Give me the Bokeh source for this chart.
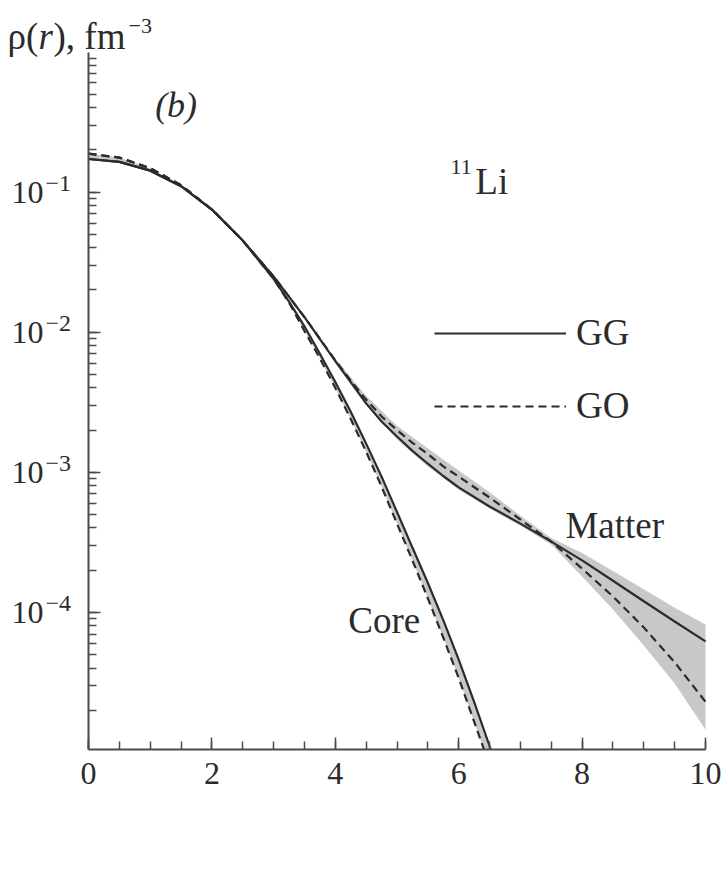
import numpy as np
from bokeh.plotting import figure
from bokeh.models import (Range1d, SingleIntervalTicker, Label, Legend, LegendItem,
                          CustomJSTickFormatter)
from bokeh.embed import file_html
from bokeh.resources import INLINE

# ---- density profiles of 11Li, rho(r) in fm^-3 ----
r_matter = [0.0, 0.5, 1.0, 1.5, 2.0, 2.5, 3.0, 3.5, 4.0, 4.25, 4.5, 4.75, 5.0, 5.25, 5.5,
            5.75, 6.0, 6.5, 7.0, 7.5, 8.0, 8.5, 9.0, 9.5, 10.0]
matter_gg = [0.172, 0.164, 0.142, 0.110, 0.075, 0.045, 0.025, 0.0128, 0.0062, 0.0044, 0.0031,
             2.3e-3, 1.8e-3, 1.42e-3, 1.15e-3, 9.4e-4, 7.8e-4, 5.7e-4, 4.3e-4, 3.2e-4,
             2.35e-4, 1.68e-4, 1.2e-4, 8.6e-5, 6.2e-5]
matter_go = [0.188, 0.176, 0.148, 0.112, 0.075, 0.045, 0.025, 0.0128, 0.0063, 0.0045, 0.0033,
             2.5e-3, 2.0e-3, 1.62e-3, 1.35e-3, 1.1e-3, 9.3e-4, 6.6e-4, 4.6e-4, 3.2e-4,
             2.05e-4, 1.3e-4, 7.8e-5, 4.4e-5, 2.3e-5]

# uncertainty corridor of the matter density
r_band = [4.0, 4.5, 5.0, 5.5, 6.0, 6.5, 7.0, 7.5, 8.0, 8.5, 9.0, 9.5, 10.0]
band_lo = [6.0e-3, 3.0e-3, 1.72e-3, 1.1e-3, 7.5e-4, 5.5e-4, 4.15e-4, 3.05e-4,
           1.8e-4, 1.05e-4, 5.8e-5, 3.1e-5, 1.45e-5]
band_hi = [6.5e-3, 3.5e-3, 2.15e-3, 1.48e-3, 1.03e-3, 7.2e-4, 4.9e-4, 3.4e-4,
           2.65e-4, 1.97e-4, 1.46e-4, 1.08e-4, 8.2e-5]

# core densities, each down to where it meets the bottom of the plot
r_core_gg = [0.0, 0.5, 1.0, 1.5, 2.0, 2.5, 3.0, 3.25, 3.5, 3.75, 4.0, 4.25, 4.5, 4.75,
             5.0, 5.25, 5.5, 5.75, 6.0, 6.25, 6.52]
core_gg = [0.172, 0.164, 0.142, 0.110, 0.075, 0.045, 0.024, 0.0165, 0.0110, 7.0e-3,
           4.4e-3, 2.7e-3, 1.6e-3, 9.3e-4, 5.2e-4, 2.9e-4, 1.62e-4, 8.8e-5, 4.6e-5,
           2.3e-5, 1.05e-5]
r_core_go = [0.0, 0.5, 1.0, 1.5, 2.0, 2.5, 3.0, 3.25, 3.5, 3.75, 4.0, 4.25, 4.5, 4.75,
             5.0, 5.25, 5.5, 5.75, 6.0, 6.25, 6.41]
core_go = [0.188, 0.176, 0.148, 0.112, 0.075, 0.045, 0.024, 0.0162, 0.0102, 6.5e-3,
           4.0e-3, 2.4e-3, 1.4e-3, 7.9e-4, 4.3e-4, 2.35e-4, 1.26e-4, 6.6e-5, 3.4e-5,
           1.66e-5, 1.05e-5]

R_MIN, R_MAX = 0.0, 10.0
RHO_MIN, RHO_MAX = 1.05e-5, 0.99
x_ticks_interval = 2
y_decades = [-1, -2, -3, -4]

SERIF = "Liberation Serif"
INK = "#2b2b2b"
AXIS = "#4a4a4a"
BAND = "#c8c8c8"

# canvas and the axes box inside it (pixels)
W, H = 728, 861
BOX_L, BOX_T, BOX_W, BOX_H = 88, 52, 617, 697

# the frame fills the whole canvas; the axes are pinned at the box edges
px_per_r = BOX_W / (R_MAX - R_MIN)
x_lo = R_MIN - BOX_L / px_per_r
x_hi = x_lo + W / px_per_r
dec = np.log10(RHO_MAX / RHO_MIN)
px_per_dec = BOX_H / dec
y_hi = RHO_MAX * 10 ** (BOX_T / px_per_dec)
y_lo = RHO_MIN / 10 ** ((H - BOX_T - BOX_H) / px_per_dec)

p = figure(frame_width=W, frame_height=H, min_border=0,
           min_border_left=0, min_border_right=0, min_border_top=0, min_border_bottom=0,
           x_range=Range1d(x_lo, x_hi), y_range=Range1d(y_lo, y_hi),
           y_axis_type="log", output_backend="svg", toolbar_location=None)

p.outline_line_color = None
p.xgrid.visible = False
p.ygrid.visible = False

# shaded corridors
p.varea(x=r_band, y1=band_lo, y2=band_hi, fill_color=BAND, fill_alpha=1.0)
p.patch(x=r_core_go + r_core_gg[::-1], y=core_go + core_gg[::-1],
        fill_color=BAND, fill_alpha=1.0, line_color=None)

# curves
l_gg = p.line(r_matter, matter_gg, line_color=INK, line_width=2.2)
l_go = p.line(r_matter, matter_go, line_color=INK, line_width=2.2, line_dash="8 5")
p.line(r_core_gg, core_gg, line_color=INK, line_width=2.2)
p.line(r_core_go, core_go, line_color=INK, line_width=2.2, line_dash="8 5")

# axes
p.xaxis.fixed_location = RHO_MIN
p.xaxis.bounds = (R_MIN, R_MAX)
p.yaxis.fixed_location = R_MIN
p.yaxis.bounds = (RHO_MIN, RHO_MAX)
for ax in (p.xaxis[0], p.yaxis[0]):
    ax.axis_line_color = AXIS
    ax.axis_line_width = 2
    ax.major_tick_line_color = AXIS
    ax.minor_tick_line_color = AXIS
    ax.major_tick_line_width = 1.5
    ax.minor_tick_line_width = 1.5
    ax.major_tick_in = 12
    ax.major_tick_out = 0
    ax.minor_tick_in = 8
    ax.minor_tick_out = 0
    ax.major_label_text_font = SERIF
    ax.major_label_text_font_size = "32px"
    ax.major_label_text_color = INK

p.xaxis.ticker = SingleIntervalTicker(interval=x_ticks_interval, num_minor_ticks=4)
p.xaxis.major_label_standoff = 13
p.yaxis.formatter = CustomJSTickFormatter(code="return ''")

# decade labels 10^n beside the y axis
for e in y_decades:
    p.add_layout(Label(x=43, x_units="screen", y=10.0 ** e, y_units="data",
                       text="10", text_align="right", text_baseline="middle",
                       y_offset=0, text_font=SERIF, text_font_size="32px",
                       text_color=INK))
    p.add_layout(Label(x=45, x_units="screen", y=10.0 ** e, y_units="data",
                       text="\u2212" + str(-e), text_align="left",
                       text_baseline="middle", y_offset=9, text_font=SERIF,
                       text_font_size="24px", text_color=INK))

# y-axis title: rho(r), fm^-3
for txt, sx, sy, size, style in [("\u03c1(", 7, H - 36, "37px", "normal"),
                                 ("r", 38, H - 36, "37px", "italic"),
                                 ("), fm", 53, H - 36, "37px", "normal"),
                                 ("\u22123", 128, H - 25, "22px", "normal")]:
    p.add_layout(Label(x=sx, y=sy, x_units="screen", y_units="screen", text=txt,
                       text_align="left", text_baseline="alphabetic",
                       text_font=SERIF, text_font_size=size, text_font_style=style,
                       text_color=INK))

def note(txt, x, y, size="37px", style="normal", align="left", baseline="alphabetic"):
    p.add_layout(Label(x=x, y=y, text=txt, text_align=align, text_baseline=baseline,
                       text_font=SERIF, text_font_size=size, text_font_style=style,
                       text_color=INK))

note("(b)", 1.08, 0.42, size="36px", style="italic", baseline="middle")
note("11", 6.21, 0.151, size="22px", align="right")
note("Li", 6.27, 0.118)
note("Matter", 7.73, 4.2e-4)
note("Core", 4.21, 8.8e-5)

legend = Legend(items=[LegendItem(label="GG", renderers=[l_gg]),
                       LegendItem(label="GO", renderers=[l_go])],
                location=(346 + BOX_L, 322 + (H - BOX_T - BOX_H)), orientation="vertical",
                glyph_width=132, glyph_height=42, label_height=42,
                spacing=30, label_standoff=10, padding=10, margin=0,
                border_line_color=None, background_fill_alpha=0,
                label_text_font=SERIF, label_text_font_size="37px",
                label_text_color=INK)
p.add_layout(legend)

open("out.html", "w").write(file_html(p, INLINE))
